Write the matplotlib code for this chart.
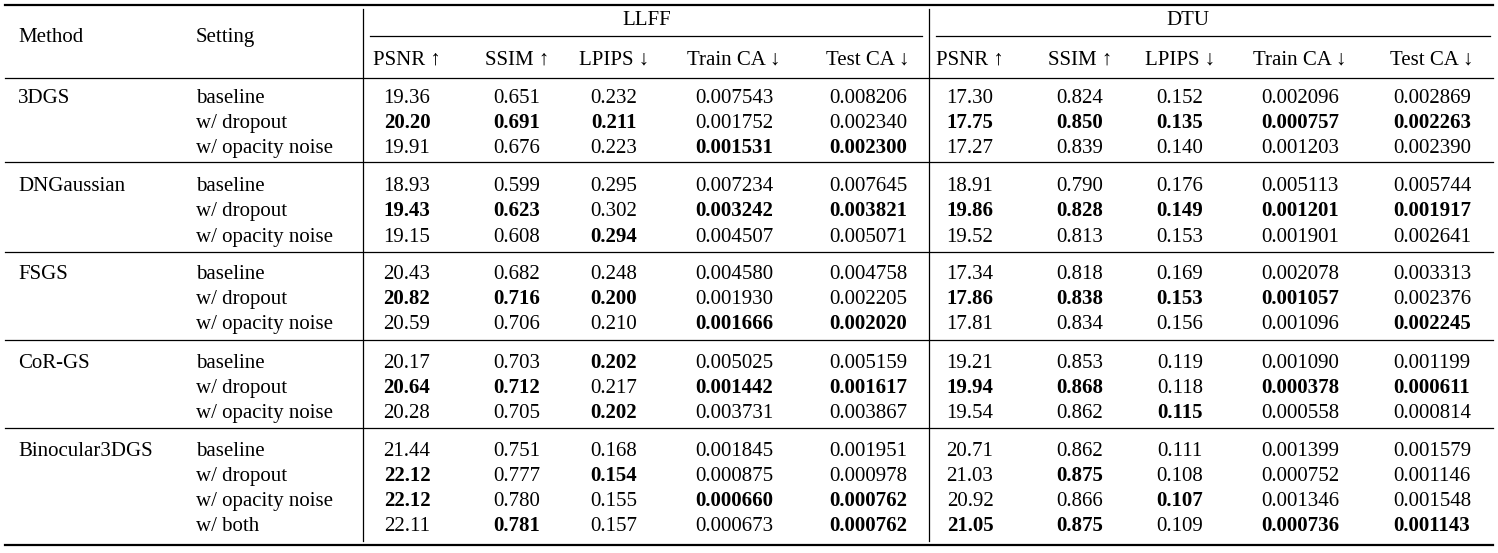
import matplotlib
matplotlib.use("Agg")
import matplotlib.pyplot as plt

methods = ["3DGS", "DNGaussian", "FSGS", "CoR-GS", "Binocular3DGS"]
settings = [["baseline", "w/ dropout", "w/ opacity noise"]] * 4 + [["baseline", "w/ dropout", "w/ opacity noise", "w/ both"]]
datasets = ["LLFF", "DTU"]
metrics = ["PSNR ↑", "SSIM ↑", "LPIPS ↓", "Train CA ↓", "Test CA ↓"]

values = [
    ["19.36","0.651","0.232","0.007543","0.008206","17.30","0.824","0.152","0.002096","0.002869"],
    ["20.20","0.691","0.211","0.001752","0.002340","17.75","0.850","0.135","0.000757","0.002263"],
    ["19.91","0.676","0.223","0.001531","0.002300","17.27","0.839","0.140","0.001203","0.002390"],
    ["18.93","0.599","0.295","0.007234","0.007645","18.91","0.790","0.176","0.005113","0.005744"],
    ["19.43","0.623","0.302","0.003242","0.003821","19.86","0.828","0.149","0.001201","0.001917"],
    ["19.15","0.608","0.294","0.004507","0.005071","19.52","0.813","0.153","0.001901","0.002641"],
    ["20.43","0.682","0.248","0.004580","0.004758","17.34","0.818","0.169","0.002078","0.003313"],
    ["20.82","0.716","0.200","0.001930","0.002205","17.86","0.838","0.153","0.001057","0.002376"],
    ["20.59","0.706","0.210","0.001666","0.002020","17.81","0.834","0.156","0.001096","0.002245"],
    ["20.17","0.703","0.202","0.005025","0.005159","19.21","0.853","0.119","0.001090","0.001199"],
    ["20.64","0.712","0.217","0.001442","0.001617","19.94","0.868","0.118","0.000378","0.000611"],
    ["20.28","0.705","0.202","0.003731","0.003867","19.54","0.862","0.115","0.000558","0.000814"],
    ["21.44","0.751","0.168","0.001845","0.001951","20.71","0.862","0.111","0.001399","0.001579"],
    ["22.12","0.777","0.154","0.000875","0.000978","21.03","0.875","0.108","0.000752","0.001146"],
    ["22.12","0.780","0.155","0.000660","0.000762","20.92","0.866","0.107","0.001346","0.001548"],
    ["22.11","0.781","0.157","0.000673","0.000762","21.05","0.875","0.109","0.000736","0.001143"],
]
bold = [
    [0,0,0,0,0,0,0,0,0,0],
    [1,1,1,0,0,1,1,1,1,1],
    [0,0,0,1,1,0,0,0,0,0],
    [0,0,0,0,0,0,0,0,0,0],
    [1,1,0,1,1,1,1,1,1,1],
    [0,0,1,0,0,0,0,0,0,0],
    [0,0,0,0,0,0,0,0,0,0],
    [1,1,1,0,0,1,1,1,1,0],
    [0,0,0,1,1,0,0,0,0,1],
    [0,0,1,0,0,0,0,0,0,0],
    [1,1,0,1,1,1,1,0,1,1],
    [0,0,1,0,0,0,0,1,0,0],
    [0,0,0,0,0,0,0,0,0,0],
    [1,0,1,0,0,0,1,0,0,0],
    [1,0,0,1,1,0,0,1,0,0],
    [0,1,0,0,1,1,1,0,1,1],
]

W, H = 1498, 553
fig = plt.figure(figsize=(W/100, H/100), dpi=100)
ax = fig.add_axes([0, 0, 1, 1])
ax.set_xlim(0, W); ax.set_ylim(H, 0); ax.axis("off")
FONT = "Liberation Serif"; FS = 15

col_x = [407, 517, 614, 734, 868, 970, 1080, 1180, 1300, 1432]
def T(x, y, s, ha="center", weight="normal"):
    ax.text(x, y + 6, s, ha=ha, va="baseline", fontsize=FS, family=FONT, weight=weight)

def hline(y, x0=5, x1=1493, lw=0.9):
    ax.plot([x0, x1], [y, y], color="black", lw=lw)

hline(5, lw=1.6)
T(18, 36, "Method", ha="left"); T(196, 36, "Setting", ha="left")
T(647, 19, datasets[0]); T(1188, 19, datasets[1])
hline(36, 370, 922); hline(36, 936, 1490)
for x, m in zip(col_x, metrics * 2):
    T(x, 59, m)
hline(78)

row_y = [97,122,147, 185,210,236, 273,298,323, 362,387,412, 450,475,500,525]
rules = [162, 252, 340, 428]
r = 0
for gi, (m, sets) in enumerate(zip(methods, settings)):
    T(18, row_y[r], m, ha="left")
    for s in sets:
        T(196, row_y[r], s, ha="left")
        for c, x in enumerate(col_x):
            T(x, row_y[r], values[r][c], weight="bold" if bold[r][c] else "normal")
        r += 1
    if gi < len(rules):
        hline(rules[gi])
hline(545, lw=1.6)
for vx in (363, 929):
    ax.plot([vx, vx], [9, 541], color="black", lw=0.9)

fig.savefig("out.png", dpi=100, facecolor="white")
